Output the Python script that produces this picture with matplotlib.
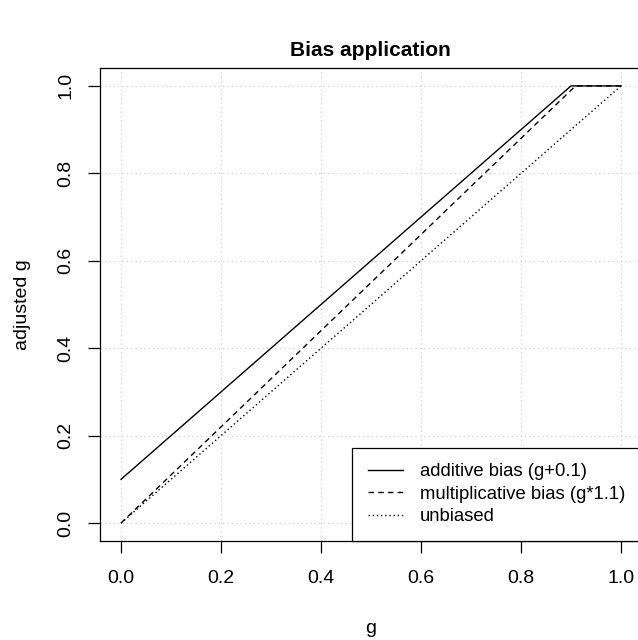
import matplotlib.pyplot as plt
from matplotlib import rc

# breakpoints of each curve (g, adjusted g)
add_g = [0.0, 0.9, 1.0]
add_y = [0.1, 1.0, 1.0]
mul_g = [0.0, 0.909, 1.0]
mul_y = [0.0, 1.0, 1.0]
unb_g = [0.0, 1.0]
unb_y = [0.0, 1.0]
ticks = [0.0, 0.2, 0.4, 0.6, 0.8, 1.0]
tick_labels = ['0.0', '0.2', '0.4', '0.6', '0.8', '1.0']
labels = ['additive bias (g+0.1)', 'multiplicative bias (g*1.1)', 'unbiased']


def main():
    rc('font', **{'family': 'sans-serif',
                  'sans-serif': ['Liberation Sans', 'DejaVu Sans'],
                  'size': 14})

    fig = plt.figure(figsize=(6.38, 6.4), dpi=100)
    # plot box: x 100..641 px, y 68..541 px
    ax = fig.add_axes([100 / 638, 1 - 541 / 640, 541 / 638, 473 / 640])

    for t in ticks:
        ax.axvline(t, color='#D3D3D3', lw=0.9, ls=(0, (1, 2.5)), zorder=0)
        ax.axhline(t, color='#D3D3D3', lw=0.9, ls=(0, (1, 2.5)), zorder=0)

    ax.plot(add_g, add_y, color='black', lw=1.0, label=labels[0])
    ax.plot(mul_g, mul_y, color='black', lw=1.0, ls=(0, (4, 3)),
            label=labels[1])
    ax.plot(unb_g, unb_y, color='black', lw=1.0, ls=(0, (1, 2)),
            label=labels[2])

    ax.set_xlim(-0.042, 1.04)
    ax.set_ylim(-0.041, 1.041)
    ax.set_xticks(ticks)
    ax.set_xticklabels(tick_labels)
    ax.set_yticks(ticks)
    ax.set_yticklabels(tick_labels, rotation=90, va='center')
    ax.tick_params(length=8.6, width=0.9, pad=12, direction='out')
    ax.tick_params(axis='y', pad=10)
    for s in ax.spines.values():
        s.set_linewidth(0.9)

    ax.set_title('Bias application', fontsize=15, fontweight='bold', pad=9)
    ax.set_xlabel('g', labelpad=24)
    ax.set_ylabel('adjusted g', labelpad=19)

    leg = ax.legend(loc='lower right', bbox_to_anchor=(1.0, 0.0),
                    borderaxespad=0, fancybox=False, framealpha=1,
                    edgecolor='black', fontsize=13.3, handlelength=1.9,
                    handletextpad=0.9, labelspacing=0.3, borderpad=0.85)
    leg.get_frame().set_linewidth(0.9)

    plt.savefig('out.png', dpi=100)


if __name__ == '__main__':
    main()
